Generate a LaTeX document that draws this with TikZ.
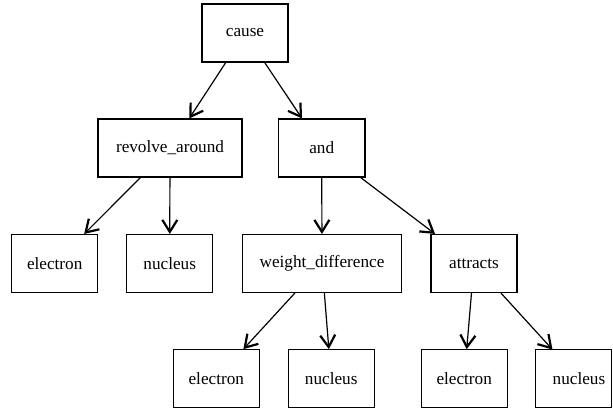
\documentclass[tikz,border=0pt]{standalone}
\usepackage{fontspec}
\setmainfont{Liberation Serif}
\usetikzlibrary{arrows.meta}
\begin{document}
\begin{tikzpicture}[x=1pt,y=-1pt,
  box/.style={draw,line width=1.1pt,minimum height=58pt,inner sep=0pt,font=\fontsize{17.2}{20}\selectfont},
  nobox/.style={minimum height=58pt,inner sep=0pt,font=\fontsize{17.2}{20}\selectfont},
  edge/.style={line width=1.2pt,-{Straight Barb[length=12pt,width=15pt,line width=2.2pt]}}]
\useasboundingbox (0,0) rectangle (613,409);
\node[box,minimum width=86pt] (cause) at (245,33) {cause};
\node[box,minimum width=144pt] (rev) at (170,148) {revolve\_around};
\node[box,minimum width=86.5pt] (and) at (321.7,148) {and};
\node[box,minimum width=86pt] (e1) at (54.7,263.5) {electron};
\node[box,minimum width=86pt] (n1) at (169.7,263.5) {nucleus};
\node[box,minimum width=159.5pt] (wd) at (322,263.5) {weight\_difference};
\node[box,minimum width=86pt] (att) at (474,263.5) {attracts};
\node[box,minimum width=86pt] (e2) at (216.3,378.7) {electron};
\node[box,minimum width=86pt] (n2) at (331.2,378.7) {nucleus};
\node[box,minimum width=86pt] (e3) at (464.2,378.7) {electron};
\node[nobox,minimum width=86pt] (n3) at (579,378.7) {nucleus};
\draw[line width=1.1pt] (n3.north west) rectangle ([xshift=-11pt]n3.south east);
\draw[edge] (cause) -- (rev);
\draw[edge] (cause) -- (and);
\draw[edge] (rev) -- (e1);
\draw[edge] (rev) -- (n1);
\draw[edge] (and) -- (wd);
\draw[edge] (and) -- (att);
\draw[edge] (wd) -- (e2);
\draw[edge] (wd) -- (n2);
\draw[edge] (att) -- (e3);
\draw[edge] (att) -- (n3);
\end{tikzpicture}
\end{document}
